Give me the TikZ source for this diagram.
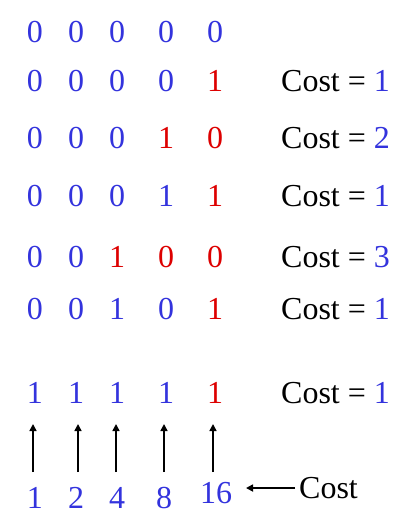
\documentclass[tikz,border=0pt]{standalone}
\usepackage{fontspec}
\setmainfont{Liberation Serif}
\usetikzlibrary{arrows.meta}
\definecolor{bl}{HTML}{3333DD}
\definecolor{rd}{HTML}{DD0000}
\begin{document}
\begin{tikzpicture}[x=1pt,y=-1pt,
  dg/.style={anchor=base,inner sep=0pt,font=\fontsize{32}{32}\selectfont},
  cs/.style={anchor=base west,inner sep=0pt,font=\fontsize{32}{32}\selectfont},
  arr/.style={-{Triangle[length=7pt,width=7pt]},line width=1.6pt}]
\useasboundingbox (0,0) rectangle (418,523);
% columns x
\def\xa{35}\def\xb{76}\def\xc{117}\def\xd{166}\def\xe{215}
% row 1
\node[dg,bl] (r1a) at (\xa,42) {0};
\node[dg,bl] (r1b) at (\xb,42) {0};
\node[dg,bl] (r1c) at (\xc,42) {0};
\node[dg,bl] (r1d) at (\xd,42) {0};
\node[dg,bl] (r1e) at (\xe,42) {0};
% row 2
\node[dg,bl] (r2a) at (\xa,91) {0};
\node[dg,bl] (r2b) at (\xb,91) {0};
\node[dg,bl] (r2c) at (\xc,91) {0};
\node[dg,bl] (r2d) at (\xd,91) {0};
\node[dg,rd] (r2e) at (\xe,91) {1};
\node[cs] (c2) at (281,91) {Cost = \textcolor{bl}{1}};
% row 3
\node[dg,bl] (r3a) at (\xa,148) {0};
\node[dg,bl] (r3b) at (\xb,148) {0};
\node[dg,bl] (r3c) at (\xc,148) {0};
\node[dg,rd] (r3d) at (\xd,148) {1};
\node[dg,rd] (r3e) at (\xe,148) {0};
\node[cs] (c3) at (281,148) {Cost = \textcolor{bl}{2}};
% row 4
\node[dg,bl] (r4a) at (\xa,206) {0};
\node[dg,bl] (r4b) at (\xb,206) {0};
\node[dg,bl] (r4c) at (\xc,206) {0};
\node[dg,bl] (r4d) at (\xd,206) {1};
\node[dg,rd] (r4e) at (\xe,206) {1};
\node[cs] (c4) at (281,206) {Cost = \textcolor{bl}{1}};
% row 5
\node[dg,bl] (r5a) at (\xa,267) {0};
\node[dg,bl] (r5b) at (\xb,267) {0};
\node[dg,rd] (r5c) at (\xc,267) {1};
\node[dg,rd] (r5d) at (\xd,267) {0};
\node[dg,rd] (r5e) at (\xe,267) {0};
\node[cs] (c5) at (281,267) {Cost = \textcolor{bl}{3}};
% row 6
\node[dg,bl] (r6a) at (\xa,319) {0};
\node[dg,bl] (r6b) at (\xb,319) {0};
\node[dg,bl] (r6c) at (\xc,319) {1};
\node[dg,bl] (r6d) at (\xd,319) {0};
\node[dg,rd] (r6e) at (\xe,319) {1};
\node[cs] (c6) at (281,319) {Cost = \textcolor{bl}{1}};
% row 7
\node[dg,bl] (r7a) at (\xa,403) {1};
\node[dg,bl] (r7b) at (\xb,403) {1};
\node[dg,bl] (r7c) at (\xc,403) {1};
\node[dg,bl] (r7d) at (\xd,403) {1};
\node[dg,rd] (r7e) at (\xe,403) {1};
\node[cs] (c7) at (281,403) {Cost = \textcolor{bl}{1}};
% weights
\node[dg,bl] (wa) at (\xa,508) {1};
\node[dg,bl] (wb) at (\xb,508) {2};
\node[dg,bl] (wc) at (\xc,508) {4};
\node[dg,bl] (wd) at (164,508) {8};
\node[dg,bl] (we) at (216,503) {16};
\node[cs] (cl) at (299,498) {Cost};
% arrows
\coordinate (ta) at (33,424); \coordinate (sa) at (33,472);
\coordinate (tb) at (78,424); \coordinate (sb) at (78,472);
\coordinate (tc) at (116,424); \coordinate (sc) at (116,472);
\coordinate (td) at (164,424); \coordinate (sd) at (164,472);
\coordinate (te) at (213,424); \coordinate (se) at (213,472);
\draw[arr] (sa) -- (ta);
\draw[arr] (sb) -- (tb);
\draw[arr] (sc) -- (tc);
\draw[arr] (sd) -- (td);
\draw[arr] (se) -- (te);
\coordinate (ce) at (246,488);
\coordinate (cs0) at (295,488);
\draw[arr] (cs0) -- (ce);
\end{tikzpicture}
\end{document}
